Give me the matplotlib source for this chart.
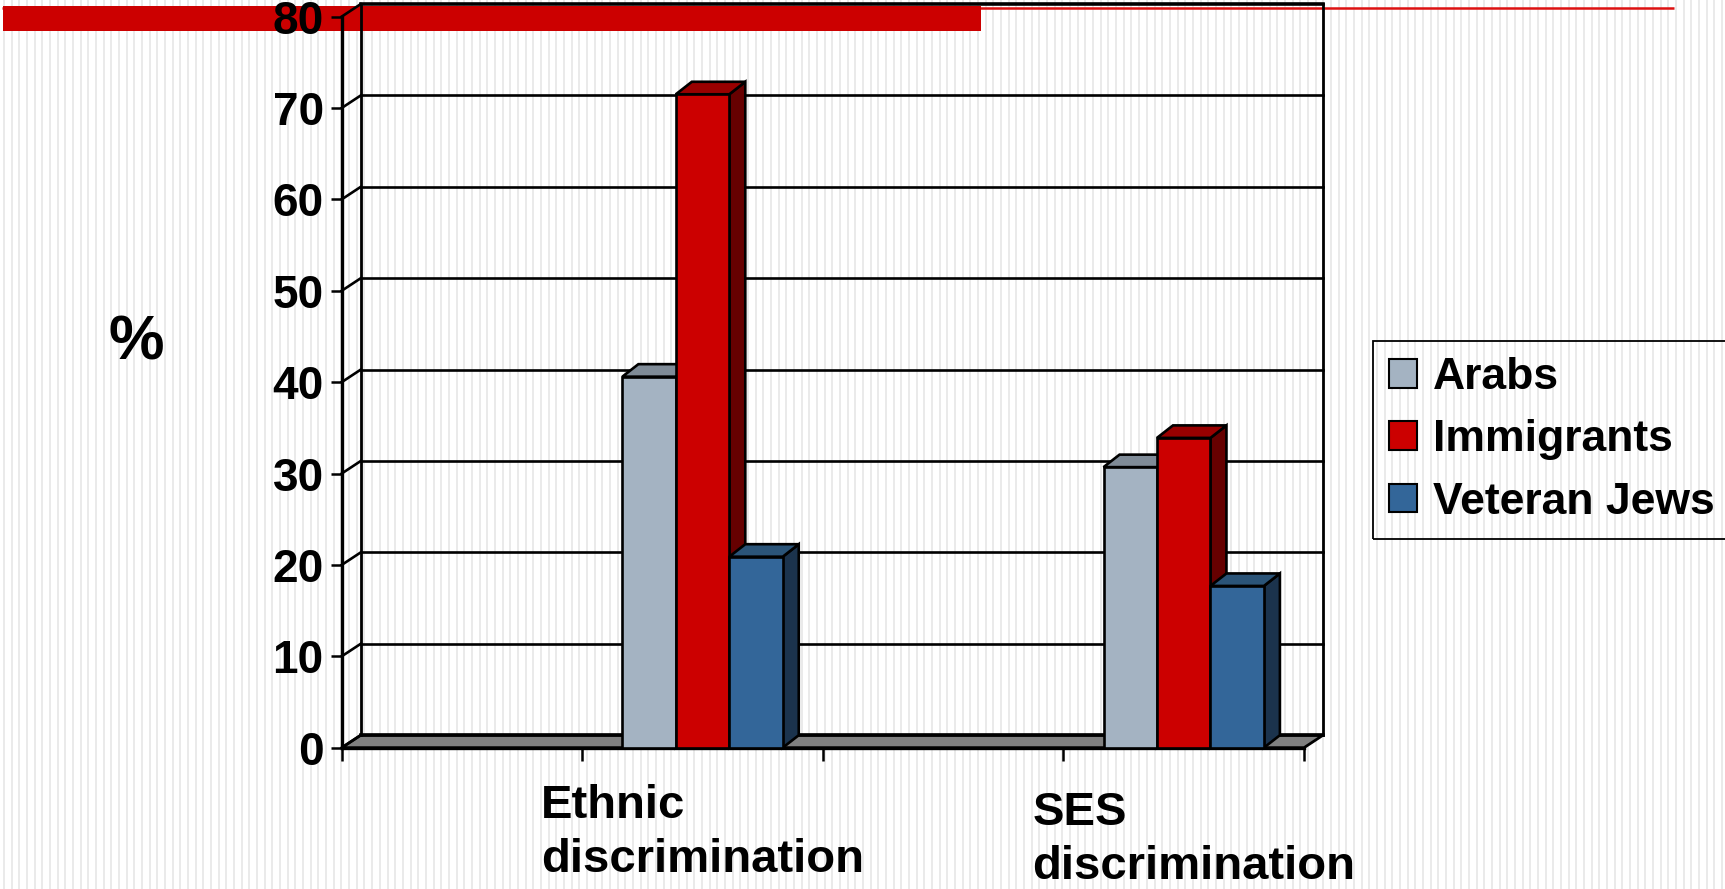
#!/usr/bin/env python3

import numpy as np
import matplotlib
matplotlib.use("Agg")
import matplotlib.pyplot as plt
from matplotlib.patches import Rectangle, Polygon, Patch
from matplotlib.transforms import ScaledTranslation

plt.rcParams['font.family'] = ['Liberation Sans', 'DejaVu Sans']
plt.rcParams['font.weight'] = 'bold'

# data (blank categories are empty slots)
categories = ["", "Ethnic\ndiscrimination", "", "SES\ndiscrimination"]
series_names = ["Arabs", "Immigrants", "Veteran Jews"]
arabs = [np.nan, 40.6, np.nan, 30.7]
immigrants = [np.nan, 71.5, np.nan, 33.9]
veteran_jews = [np.nan, 20.9, np.nan, 17.7]
y_ticks = [0, 10, 20, 30, 40, 50, 60, 70, 80]

# front / top / side shades per series
front_colors = ['#a4b3c2', '#cc0000', '#336699']
top_colors = ['#7f8b97', '#990000', '#2b5478']
side_colors = ['#5f6872', '#660000', '#1b334d']

W, H = 1725, 889
fig = plt.figure(figsize=(W / 100, H / 100), dpi=100)
fig.patch.set_facecolor('white')

# striped slide background and red header bar, in pixel coords
bg = fig.add_axes([0, 0, 1, 1], zorder=-10)
bg.set_xlim(0, W)
bg.set_ylim(H, 0)
bg.axis('off')
bg.vlines(np.arange(4, W, 7.67), 0, H, color='#e8e8e8', lw=1.3, zorder=1)
bg.add_patch(Rectangle((3, 6), 978, 25, color='#cc0000', lw=0, zorder=3))
bg.plot([2, 1674], [8, 8], color='#dd1111', lw=1.8,
        solid_capstyle='butt', zorder=2)

# front plane of the 3d box
x0, x1 = 341.7, 1304.0
y0, y1 = 747.7, 16.6
ax = fig.add_axes([x0 / W, (H - y0) / H, (x1 - x0) / W, (y0 - y1) / H])
ax.patch.set_visible(False)
n_cat = len(categories)
ax.set_xlim(0, n_cat)
ax.set_ylim(0, 80)

ppx = (x1 - x0) / n_cat
ppy = (y0 - y1) / 80
wdx, wdy = 19 / ppx, 12.5 / ppy     # wall depth
bdx, bdy = 16 / ppx, 12.5 / ppy     # bar depth

# floor
ax.add_patch(Polygon([(0, 0), (n_cat, 0), (n_cat + wdx, wdy), (wdx, wdy)],
                     closed=True, fc='#808080', ec='black', lw=2,
                     clip_on=False, zorder=1))

# back wall, gridlines and the little diagonals
for v in y_ticks:
    ax.plot([wdx, n_cat + wdx], [v + wdy, v + wdy], color='black',
            lw=2.6 if v in (0, 80) else 1.9, clip_on=False, zorder=1.5)
    ax.plot([0, wdx], [v, v + wdy], color='black', lw=1.9,
            clip_on=False, zorder=1.5)
for xx in (wdx, n_cat + wdx):
    ax.plot([xx, xx], [wdy, 80 + wdy], color='black', lw=2.0,
            clip_on=False, zorder=1.5)

# bars
values = [arabs, immigrants, veteran_jews]
bar_w = 1 / 4.5
start = (1 - 3 * bar_w) / 2
cat_x = np.arange(n_cat)
for i, vals in enumerate(values):
    vals = np.array(vals, dtype=float)
    keep = ~np.isnan(vals)
    xs = cat_x[keep] + start + i * bar_w
    bars = ax.bar(xs, vals[keep], width=bar_w, align='edge',
                  color=front_colors[i], edgecolor='black', lw=1.9,
                  zorder=3 + i + 0.5, label=series_names[i])
    for b in bars:
        xl, xr, h = b.get_x(), b.get_x() + b.get_width(), b.get_height()
        top = Polygon([(xl, h), (xr, h), (xr + bdx, h + bdy), (xl + bdx, h + bdy)],
                      closed=True, fc=top_colors[i], ec='black', lw=1.9,
                      clip_on=False, zorder=3 + i)
        side = Polygon([(xr, 0), (xr, h), (xr + bdx, h + bdy), (xr + bdx, bdy)],
                       closed=True, fc=side_colors[i], ec='black', lw=1.9,
                       clip_on=False, zorder=3 + i)
        ax.add_patch(side)
        ax.add_patch(top)
        b.set_clip_on(False)

# axes
for s in ('top', 'right'):
    ax.spines[s].set_visible(False)
for s in ('left', 'bottom'):
    ax.spines[s].set_linewidth(2.4)
    ax.spines[s].set_zorder(2)

ax.set_yticks(y_ticks)
ax.tick_params(axis='y', length=8, width=1.8, pad=5, labelsize=33)
ax.set_xticks(np.arange(n_cat + 1))
ax.set_xticklabels([])
ax.set_xticks(cat_x + 0.5, minor=True)
ax.set_xticklabels(categories, minor=True)
ax.tick_params(axis='x', which='major', length=9.4, width=1.8)
ax.tick_params(axis='x', which='minor', length=0, pad=26, labelsize=34)
minor_labels = ax.get_xticklabels(minor=True)
for lab in minor_labels:
    lab.set_multialignment('left')
    lab.set_linespacing(1.3)
# the right-hand label sits a little lower/right in the original (3d skew)
shift = ScaledTranslation(10 / 100, -7 / 100, fig.dpi_scale_trans)
minor_labels[3].set_transform(minor_labels[3].get_transform() + shift)

fig.text(136 / W, 1 - 343 / H, '%', fontsize=45, ha='center', va='center')

handles = [Patch(facecolor=c, edgecolor='black', lw=1.5) for c in front_colors]
leg = fig.legend(handles, series_names, loc='upper left',
                 bbox_to_anchor=(1373 / W, 1 - 341 / H), borderaxespad=0,
                 prop=dict(size=32, weight='bold'), frameon=True,
                 fancybox=False, edgecolor='black', facecolor='none',
                 borderpad=0.36, handlelength=0.62, handleheight=0.62,
                 handletextpad=0.36, labelspacing=0.48)
leg.get_frame().set_linewidth(1.3)
leg.get_frame().set_alpha(None)

fig.savefig('out.png', dpi=100)
